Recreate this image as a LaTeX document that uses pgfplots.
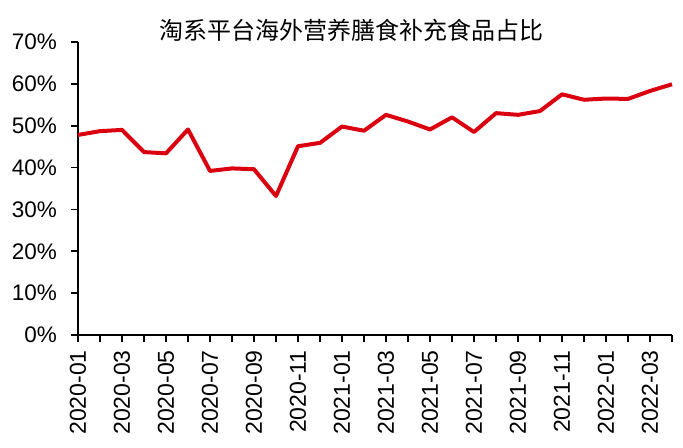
\documentclass[border=0pt]{standalone}
\usepackage{pgfplots}
\pgfplotsset{compat=1.18}
\usepackage{fontspec}
\setmainfont{Liberation Sans}
\newfontfamily\cjk{Noto Sans CJK SC}
\definecolor{linered}{RGB}{218,0,16}
\begin{document}
\begin{tikzpicture}
\useasboundingbox (0,0) rectangle (683bp,448bp);
\node[font=\cjk\fontsize{24bp}{26bp}\selectfont, anchor=center] at (351bp,418bp) {淘系平台海外营养膳食补充食品占比};
\begin{axis}[
  at={(78bp,113bp)}, anchor=south west,
  scale only axis, width=594bp, height=293bp,
  xmin=0, xmax=27, ymin=0, ymax=70,
  axis lines=left, axis line style={line width=1.8bp, -},
  tick align=outside, tick style={line width=1.6bp, black},
  major tick length=7bp,
  xtick={0,...,27},
  xticklabels={2020-01,,2020-03,,2020-05,,2020-07,,2020-09,,2020-11,,2021-01,,2021-03,,2021-05,,2021-07,,2021-09,,2021-11,,2022-01,,2022-03,},
  x tick label style={rotate=90, anchor=east, font=\fontsize{23bp}{25bp}\selectfont, inner sep=2bp, xshift=-6bp},
  ytick={0,10,...,70},
  yticklabel={\pgfmathprintnumber{\tick}\%},
  y tick label style={font=\fontsize{22.5bp}{24bp}\selectfont, inner sep=2bp, xshift=-12bp},
  /pgf/number format/assume math mode=true,
  clip=false,
]
\addplot[color=linered, line width=4bp, line join=round, mark=none] coordinates {
(0,47.8) (1,48.7) (2,49.0) (3,43.7) (4,43.4) (5,49.1) (6,39.2) (7,39.8) (8,39.6) (9,33.2)
(10,45.1) (11,45.9) (12,49.8) (13,48.8) (14,52.6) (15,51.0) (16,49.1) (17,52.0) (18,48.5) (19,53.0)
(20,52.6) (21,53.5) (22,57.5) (23,56.2) (24,56.5) (25,56.4) (26,58.3) (27,59.9)
};
\end{axis}
\end{tikzpicture}
\end{document}
